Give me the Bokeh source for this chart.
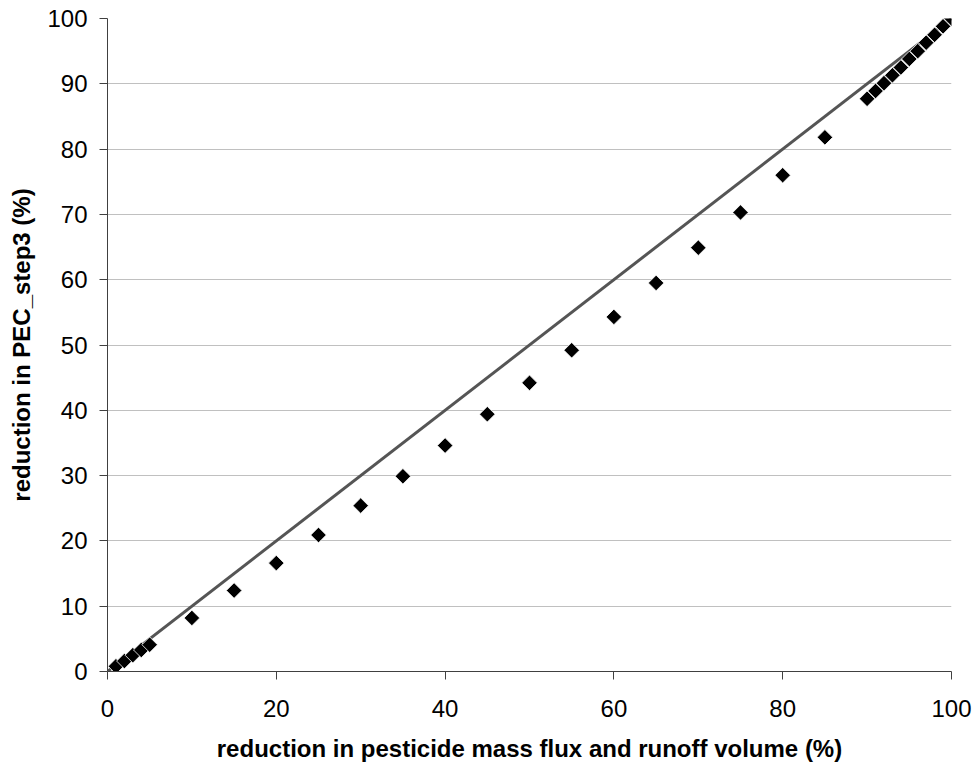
import numpy as np
from bokeh.plotting import figure
from bokeh.models import Range1d, FixedTicker, ColumnDataSource
from bokeh.embed import file_html
from bokeh.resources import INLINE

# data
flux_reduction = [1, 2, 3, 4, 5, 10, 15, 20, 25, 30, 35, 40, 45, 50, 55, 60, 65, 70, 75, 80, 85,
                  90, 91, 92, 93, 94, 95, 96, 97, 98, 99, 100]
pec_reduction = [0.8, 1.6, 2.5, 3.3, 4.1, 8.2, 12.4, 16.6, 20.9, 25.4, 29.9, 34.6, 39.4, 44.2, 49.2,
                 54.3, 59.5, 64.9, 70.3, 76.0, 81.8,
                 87.7, 88.9, 90.1, 91.3, 92.5, 93.8, 95.0, 96.3, 97.5, 98.8, 100.0]
line_x = [0, 100]
line_y = [0, 100]
x_ticks = [0, 20, 40, 60, 80, 100]
y_ticks = [0, 10, 20, 30, 40, 50, 60, 70, 80, 90, 100]
x_title = "reduction in pesticide mass flux and runoff volume (%)"
y_title = "reduction in PEC_step3 (%)"

FONT = "Liberation Sans"

p = figure(width=975, height=764, output_backend="svg", toolbar_location=None,
           x_range=Range1d(0, 100), y_range=Range1d(0, 100),
           min_border_left=107, min_border_right=24, min_border_top=18, min_border_bottom=93)
p.outline_line_color = None
p.background_fill_color = "white"
p.border_fill_color = "white"

p.line(line_x, line_y, line_color="#555555", line_width=3)
src = ColumnDataSource(dict(x=flux_reduction, y=pec_reduction))
p.scatter("x", "y", source=src, marker="square", size=11, angle=np.pi / 4,
          fill_color="black", line_color="white", line_width=0.8)

p.xgrid.visible = False
p.ygrid.grid_line_color = "#c0c0c0"
p.ygrid.grid_line_width = 1

for ax in (p.xaxis[0], p.yaxis[0]):
    ax.axis_line_color = "#404040"
    ax.major_tick_line_color = "#404040"
    ax.major_tick_out = 8
    ax.major_tick_in = 0
    ax.minor_tick_line_color = None
    ax.major_label_text_font = FONT
    ax.major_label_text_font_size = "24px"
    ax.major_label_text_color = "black"
    ax.axis_label_text_font = FONT
    ax.axis_label_text_font_size = "24px"
    ax.axis_label_text_font_style = "bold"
    ax.axis_label_text_color = "black"

p.xaxis.ticker = FixedTicker(ticks=x_ticks)
p.yaxis.ticker = FixedTicker(ticks=y_ticks)
p.xaxis.axis_label = x_title
p.yaxis.axis_label = y_title
p.xaxis.major_label_standoff = 20
p.yaxis.major_label_standoff = 12
p.xaxis.axis_label_standoff = 15
p.yaxis.axis_label_standoff = 9

open("out.html", "w").write(file_html(p, INLINE))
